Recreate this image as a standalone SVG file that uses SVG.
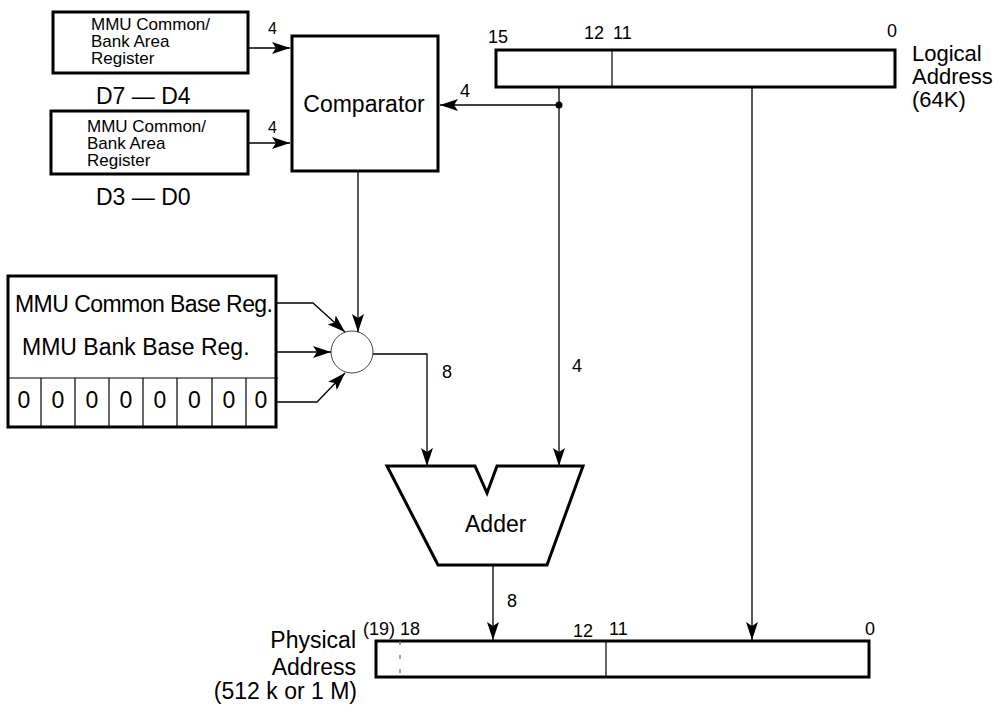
<svg xmlns="http://www.w3.org/2000/svg" width="1005" height="709" viewBox="0 0 1005 709">
<defs>
<marker id="ah" markerUnits="userSpaceOnUse" markerWidth="18" markerHeight="12" refX="18" refY="6" orient="auto">
<path d="M0,0 L18,6 L0,12 L4,6 Z" fill="#000"/>
</marker>
<style>
text{font-family:"Liberation Sans",Arial,Helvetica,sans-serif;fill:#000}
.box{fill:#fff;stroke:#000;stroke-width:3}
.thin{fill:none;stroke:#000;stroke-width:1.2}
.wire{fill:none;stroke:#000;stroke-width:1.3}
.arr{marker-end:url(#ah)}
.s{font-size:17px}
.m{font-size:18px}
.l{font-size:23px}
.la{font-size:22px}
.n{font-size:16px}
</style>
</defs>
<rect width="1005" height="709" fill="#fff"/>

<g id="areaReg1">
<rect class="box" x="53" y="12" width="195" height="61"/>
<text class="s" x="91" y="30">MMU Common/</text>
<text class="s" x="91" y="47">Bank Area</text>
<text class="s" x="91" y="64">Register</text>
<text class="l" x="96" y="104">D7 — D4</text>
</g>

<g id="areaReg2">
<rect class="box" x="51" y="111" width="197" height="63"/>
<text class="s" x="87" y="132">MMU Common/</text>
<text class="s" x="87" y="149">Bank Area</text>
<text class="s" x="87" y="166">Register</text>
<text class="l" x="96" y="205">D3 — D0</text>
</g>

<g id="comparator">
<rect class="box" x="292" y="36" width="146" height="135"/>
<text class="l" x="364" y="112" text-anchor="middle">Comparator</text>
</g>

<g id="logicalAddress">
<rect class="box" x="496" y="50" width="399" height="37"/>
<line class="thin" x1="612" y1="50" x2="612" y2="87"/>
<text class="m" x="488" y="43">15</text>
<text class="m" x="584" y="39">12</text>
<text class="m" x="613" y="39">11</text>
<text class="m" x="887" y="37">0</text>
<text class="la" x="912" y="61">Logical</text>
<text class="la" x="912" y="84">Address</text>
<text class="la" x="912" y="107">(64K)</text>
</g>

<g id="baseRegs">
<rect class="box" x="8" y="276" width="268" height="151"/>
<line class="thin" x1="8" y1="378" x2="278" y2="378"/>
<line class="thin" x1="41" y1="378" x2="41" y2="427"/>
<line class="thin" x1="75" y1="378" x2="75" y2="427"/>
<line class="thin" x1="109" y1="378" x2="109" y2="427"/>
<line class="thin" x1="143" y1="378" x2="143" y2="427"/>
<line class="thin" x1="177" y1="378" x2="177" y2="427"/>
<line class="thin" x1="212" y1="378" x2="212" y2="427"/>
<line class="thin" x1="246" y1="378" x2="246" y2="427"/>
<text class="l" x="15" y="312" textLength="258">MMU Common Base Reg.</text>
<text class="l" x="22" y="355">MMU Bank Base Reg.</text>
<g text-anchor="middle">
<text x="24" y="408" class="l">0</text>
<text x="58" y="408" class="l">0</text>
<text x="92" y="408" class="l">0</text>
<text x="126" y="408" class="l">0</text>
<text x="160" y="408" class="l">0</text>
<text x="194.5" y="408" class="l">0</text>
<text x="229" y="408" class="l">0</text>
<text x="261" y="408" class="l">0</text>
</g>
</g>

<g id="mux">
<circle cx="352" cy="352" r="21" fill="#fff" stroke="#444" stroke-width="1"/>
</g>

<g id="adder">
<path class="box" d="M387,466 L475,466 L487,493 L497,466 L583,466 L547,565 L438,565 Z"/>
<text class="l" x="465" y="532">Adder</text>
</g>

<g id="physicalAddress">
<rect class="box" x="376" y="641" width="493" height="36"/>
<line x1="400" y1="641" x2="400" y2="677" stroke="#666" stroke-width="1.2" stroke-dasharray="4,10"/>
<line class="thin" x1="606" y1="641" x2="606" y2="677"/>
<text class="m" x="363" y="635">(19) 18</text>
<text class="m" x="573" y="637">12</text>
<text class="m" x="609" y="635">11</text>
<text class="m" x="865" y="635">0</text>
<text class="l" x="356" y="648" text-anchor="end">Physical</text>
<text class="l" x="356" y="675" text-anchor="end">Address</text>
<text class="l" x="357" y="699" text-anchor="end">(512 k or 1 M)</text>
</g>

<g id="connectors">
<line class="wire arr" x1="248" y1="48" x2="290" y2="48"/>
<line class="wire arr" x1="248" y1="143" x2="290" y2="143"/>
<text class="n" x="268" y="34">4</text>
<text class="n" x="268" y="133">4</text>
<line class="wire" x1="559" y1="87" x2="559" y2="105"/>
<line class="wire arr" x1="559" y1="105" x2="440" y2="105"/>
<circle cx="559" cy="105" r="3.5" fill="#000"/>
<text class="m" x="460" y="97">4</text>
<line class="wire arr" x1="559" y1="105" x2="559" y2="466"/>
<text class="m" x="572" y="372">4</text>
<line class="wire arr" x1="752" y1="87" x2="752" y2="640"/>
<line class="wire arr" x1="358" y1="171" x2="358" y2="332"/>
<polyline class="wire arr" points="276,303 313,303 345,332"/>
<line class="wire arr" x1="276" y1="352" x2="331" y2="352"/>
<polyline class="wire arr" points="276,402 317,402 345,373"/>
<polyline class="wire arr" points="373,354 427,354 427,466"/>
<text class="m" x="442" y="378">8</text>
<line class="wire arr" x1="493" y1="565" x2="493" y2="640"/>
<text class="m" x="507" y="607">8</text>
</g>
</svg>
